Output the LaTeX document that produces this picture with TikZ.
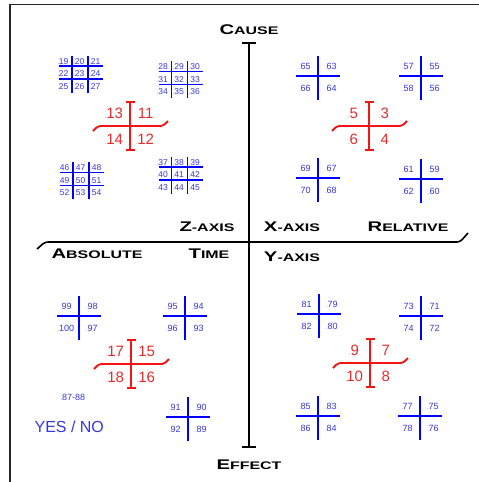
\documentclass[tikz,border=0pt]{standalone}
\usepackage{fontspec}
\setmainfont{Liberation Sans}
\newfontfamily\capsfont[FakeStretch=1.45]{Liberation Sans}
\definecolor{crossblue}{RGB}{0,0,255}
\definecolor{lblblue}{RGB}{55,55,215}
\definecolor{crossred}{RGB}{245,20,20}
\definecolor{lblred}{RGB}{230,45,45}
\newcommand\axcap[2]{{\fontsize{14}{14}\selectfont #1}{\fontsize{11}{11}\selectfont #2}}
\newcommand\pdot{{\fontsize{5}{5}\selectfont.}}
\begin{document}
\begin{tikzpicture}[x=1pt, y=-1pt,
    axisline/.style={draw=black, line width=1.6pt},
    axislbl/.style={font=\capsfont\bfseries, inner sep=1pt},
    bluebar/.style={draw=crossblue, line width=1.8pt},
    gridbar/.style={draw=crossblue, line width=1.6pt},
    redbar/.style={draw=crossred, line width=1.8pt},
    gridlbl/.style={font=\fontsize{8.5}{9}\selectfont, text=lblblue, inner sep=0pt},
    bluelbl/.style={font=\fontsize{9}{9}\selectfont, text=lblblue, inner sep=0pt},
    redlbl/.style={font=\fontsize{15}{16}\selectfont, text=lblred, inner sep=0pt}
  ]
  \useasboundingbox (0,0) rectangle (479,482);
  \draw[line width=1.6pt, black!85] (10,482) -- (10,4.5) -- (479,4.5);
  \coordinate (ctop) at (249,43);
  \coordinate (cbot) at (249,447);
  \coordinate (zleft) at (37,249);
  \coordinate (zright) at (468,233);
  \draw[axisline] (ctop) -- (cbot);
  \draw[axisline] ([xshift=-7pt]ctop) -- ([xshift=7pt]ctop);
  \draw[axisline] ([xshift=-7pt]cbot) -- ([xshift=7pt]cbot);
  \draw[axisline, rounded corners=3pt] (zleft) -- (45,242) -- (460,242) -- (zright);
  \foreach \cx/\cy/\a/\b/\c/\d in {130/126/13/11/14/12, 369/126/5/3/6/4,
      131/364/17/15/18/16, 370/363/9/7/10/8}{
    \draw[redbar] (\cx,\cy-24) -- (\cx,\cy+24);
    \draw[redbar] (\cx-4.5,\cy-24) -- (\cx+4.5,\cy-24);
    \draw[redbar] (\cx-4.5,\cy+24) -- (\cx+4.5,\cy+24);
    \draw[redbar, rounded corners=2pt] (\cx-37,\cy+5) -- (\cx-32,\cy) -- (\cx+33,\cy) -- (\cx+38,\cy-5);
    \node[redlbl] (r\a) at (\cx-16,\cy-13) {\pdot\a};
    \node[redlbl] (r\b) at (\cx+15,\cy-13) {\pdot\b};
    \node[redlbl] (r\c) at (\cx-16,\cy+13) {\pdot\c};
    \node[redlbl] (r\d) at (\cx+15,\cy+13) {\pdot\d};
  }
  \foreach \cx/\cy/\a/\b/\c/\d in {318/76/65/63/66/64, 421/76/57/55/58/56,
      318/178/69/67/70/68, 421/179/61/59/62/60, 319/314/81/79/82/80,
      421/316/73/71/74/72, 318/416/85/83/86/84, 420/416/77/75/78/76,
      79/316/99/98/100/97, 185/316/95/94/96/93, 188/417/91/90/92/89}{
    \draw[bluebar] (\cx,\cy-20) -- (\cx,\cy+24);
    \draw[bluebar] (\cx-22,\cy) -- (\cx+22,\cy);
    \node[bluelbl] (b\a) at (\cx-13,\cy-10) {\pdot\a};
    \node[bluelbl] (b\b) at (\cx+13,\cy-10) {\pdot\b};
    \node[bluelbl] (b\c) at (\cx-13,\cy+12) {\pdot\c};
    \node[bluelbl] (b\d) at (\cx+13,\cy+12) {\pdot\d};
  }
  \foreach \cx/\cy/\n in {80/72.5/19, 179.5/78/28, 179.5/173.5/37, 81/179/46}{
    \draw[gridbar] (\cx-8,\cy-17) -- (\cx-8,\cy+20);
    \draw[gridbar] (\cx+8,\cy-17) -- (\cx+8,\cy+20);
    \draw[gridbar] (\cx-21,\cy-6.5) -- (\cx+23,\cy-6.5);
    \draw[gridbar] (\cx-21,\cy+6.5) -- (\cx+23,\cy+6.5);
    \foreach \r in {0,1,2}{
      \foreach \c in {0,1,2}{
        \pgfmathtruncatemacro\k{\n+3*\r+\c}
        \node[gridlbl] (g\k) at ({\cx-17+16*\c},{\cy-11+12.5*\r}) {\pdot\k};
      }
    }
  }
  \node[axislbl] (cause) at (249,30) {\axcap{C}{AUSE}};
  \node[axislbl] (effect) at (249,465) {\axcap{E}{FFECT}};
  \node[axislbl] (zaxis) at (207,227) {\axcap{Z}{-AXIS}};
  \node[axislbl] (xaxis) at (292,227) {\axcap{X}{-AXIS}};
  \node[axislbl] (relative) at (408,227) {\axcap{R}{ELATIVE}};
  \node[axislbl] (absolute) at (97,254) {\axcap{A}{BSOLUTE}};
  \node[axislbl] (time) at (209,254) {\axcap{T}{IME}};
  \node[axislbl] (yaxis) at (292,257) {\axcap{Y}{-AXIS}};
  \node[bluelbl, font=\fontsize{9}{9}\selectfont] (range) at (73,397) {\pdot 87-88};
  \node[bluelbl, font=\fontsize{16}{16}\selectfont, anchor=west] (yesno) at (33,427) {\pdot YES / NO};
\end{tikzpicture}
\end{document}
